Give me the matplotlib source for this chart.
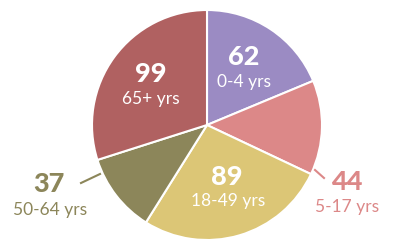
import matplotlib
matplotlib.use('Agg')
import matplotlib.pyplot as plt

# age groups, clockwise from 12 o'clock
groups = ["0-4 yrs", "5-17 yrs", "18-49 yrs", "50-64 yrs", "65+ yrs"]
counts = [62, 44, 89, 37, 99]
colors = ["#9b8bc3", "#dc8888", "#dcc676", "#8c865a", "#b06161"]

fig = plt.figure(figsize=(4, 2.5), dpi=100)
ax = fig.add_axes([0, 0, 1, 1])

# pie drawn in flipped y axis, so counterclock=True looks clockwise
ax.pie(counts, colors=colors, startangle=-90, counterclock=True,
       center=(207, 125), radius=115, frame=True,
       wedgeprops=dict(edgecolor="white", linewidth=1.5))
ax.set_xlim(0, 400)
ax.set_ylim(250, 0)
ax.set_aspect('equal')
ax.axis('off')

# label spots (number, group) in pixel coords
num_pos = [(244, 57), (347, 182), (227, 177), (49, 184), (151, 74)]
txt_pos = [(244, 82), (347, 207), (228, 201), (50, 210), (151, 99)]
inside = [True, False, True, False, True]

for i in range(len(counts)):
    c = "white" if inside[i] else colors[i]
    ax.text(*num_pos[i], str(counts[i]), ha="center", va="center",
            fontsize=19.5, fontweight="black", family="Lato", color=c)
    ax.text(*txt_pos[i], groups[i], ha="center", va="center",
            fontsize=12.5, family="Lato", color=c)

# leader lines for the two small slices
ax.plot([315, 324], [170, 178], color=colors[1], lw=1.5)
ax.plot([81, 100], [183, 174], color=colors[3], lw=1.5)

plt.savefig("out.png", dpi=100)
